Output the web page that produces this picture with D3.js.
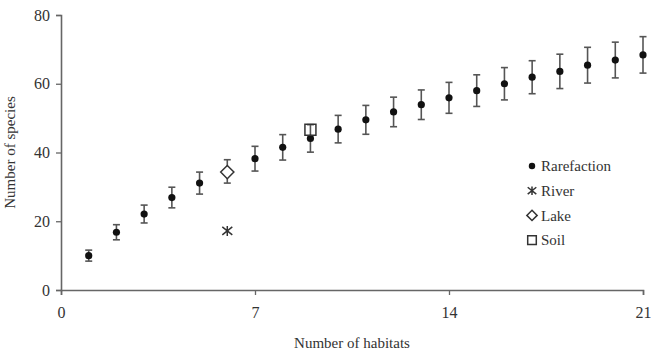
<!DOCTYPE html>
<html>
<head>
    <title>Species rarefaction</title>
    <script src="https://d3js.org/d3.v7.min.js"></script>
    <style>
        body { margin: 0; background: #fff; }
    </style>
</head>
<body>
<script>
    // data
    const habitats = [1, 2, 3, 4, 5, 6, 7, 8, 9, 10, 11, 12, 13, 14, 15, 16, 17, 18, 19, 20, 21];
    const richness = [10.0, 16.8, 22.1, 26.9, 31.1, 34.5, 38.2, 41.5, 44.1, 46.8, 49.5, 51.8, 53.9, 55.9, 58.0, 60.0, 61.9, 63.6, 65.4, 66.9, 68.4];
    const errors = [1.6, 2.2, 2.6, 3.0, 3.2, 3.4, 3.6, 3.7, 4.0, 4.0, 4.2, 4.3, 4.3, 4.5, 4.6, 4.7, 4.8, 5.0, 5.2, 5.2, 5.3];
    const riverPoint = [6, 17.2];
    const lakePoint = [6, 34.3];
    const soilPoint = [9, 46.6];
    const xTicks = [0, 7, 14, 21];
    const yTicks = [0, 20, 40, 60, 80];
    const legendLabels = ["Rarefaction", "River", "Lake", "Soil"];

    const serif = "'Liberation Serif', 'Times New Roman', serif";
    const margin = { top: 15, right: 8, bottom: 65, left: 61 };
    const width = 651 - margin.left - margin.right;
    const height = 355 - margin.top - margin.bottom;

    const svg = d3.select("body").append("svg")
        .attr("width", 651)
        .attr("height", 355)
        .style("font-family", serif);
    const g = svg.append("g")
        .attr("transform", `translate(${margin.left},${margin.top})`);

    const x = d3.scaleLinear().domain([0, 21]).range([0, width]);
    const y = d3.scaleLinear().domain([0, 80]).range([height, 0]);

    // axes
    const xAxis = g.append("g")
        .attr("transform", `translate(0,${height})`)
        .call(d3.axisBottom(x).tickValues(xTicks).tickSize(5).tickPadding(12));
    const yAxis = g.append("g")
        .call(d3.axisLeft(y).tickValues(yTicks).tickSize(5).tickPadding(6));
    [xAxis, yAxis].forEach(a => {
        a.attr("font-family", serif);
        a.select(".domain").attr("stroke", "#666").attr("stroke-width", 1.6);
        a.selectAll(".tick line").attr("stroke", "#666").attr("stroke-width", 1.3);
        a.selectAll(".tick text")
            .style("font-family", serif)
            .style("font-size", "16px")
            .attr("fill", "#333");
    });

    g.append("text")
        .attr("x", width / 2)
        .attr("y", height + 58)
        .attr("text-anchor", "middle")
        .attr("fill", "#333")
        .style("font-family", serif)
        .style("font-size", "15px")
        .text("Number of habitats");
    g.append("text")
        .attr("transform", `translate(${-46},${height / 2}) rotate(-90)`)
        .attr("text-anchor", "middle")
        .attr("fill", "#333")
        .style("font-family", serif)
        .style("font-size", "15px")
        .text("Number of species");

    // error bars
    const bars = g.selectAll(".err")
        .data(habitats)
        .join("g")
        .attr("class", "err")
        .attr("stroke", "#555")
        .attr("stroke-width", 1.6);
    bars.append("line")
        .attr("x1", d => x(d)).attr("x2", d => x(d))
        .attr("y1", (d, i) => y(richness[i] + errors[i]))
        .attr("y2", (d, i) => y(richness[i] - errors[i]));
    bars.append("line")
        .attr("x1", d => x(d) - 3.5).attr("x2", d => x(d) + 3.5)
        .attr("y1", (d, i) => y(richness[i] + errors[i]))
        .attr("y2", (d, i) => y(richness[i] + errors[i]));
    bars.append("line")
        .attr("x1", d => x(d) - 3.5).attr("x2", d => x(d) + 3.5)
        .attr("y1", (d, i) => y(richness[i] - errors[i]))
        .attr("y2", (d, i) => y(richness[i] - errors[i]));

    g.selectAll(".dot")
        .data(habitats)
        .join("circle")
        .attr("class", "dot")
        .attr("cx", d => x(d))
        .attr("cy", (d, i) => y(richness[i]))
        .attr("r", 3.6)
        .attr("fill", "#111");

    // marker shapes
    const starPath = s => `M${-s},${-s * 0.8}L${s},${s * 0.8}M${-s},${s * 0.8}L${s},${-s * 0.8}M0,${-s}L0,${s}`;
    const diamondPath = s => `M0,${-s}L${s},0L0,${s}L${-s},0Z`;
    const squarePath = s => `M${-s},${-s}H${s}V${s}H${-s}Z`;

    function marker(sel, kind, size) {
        if (kind === 0) {
            sel.append("circle").attr("r", size * 0.75).attr("fill", "#111");
        } else if (kind === 1) {
            sel.append("path").attr("d", starPath(size))
                .attr("fill", "none").attr("stroke", "#333").attr("stroke-width", 1.5);
        } else if (kind === 2) {
            sel.append("path").attr("d", diamondPath(size * 1.2))
                .attr("fill", "#fff").attr("stroke", "#333").attr("stroke-width", 1.5);
        } else {
            sel.append("path").attr("d", squarePath(size))
                .attr("fill", "none").attr("stroke", "#333").attr("stroke-width", 1.5);
        }
    }

    marker(g.append("g").attr("transform", `translate(${x(riverPoint[0])},${y(riverPoint[1])})`), 1, 5);
    marker(g.append("g").attr("transform", `translate(${x(lakePoint[0])},${y(lakePoint[1])})`), 2, 5.5);
    marker(g.append("g").attr("transform", `translate(${x(soilPoint[0])},${y(soilPoint[1])})`), 3, 5.5);

    // legend
    const legend = svg.append("g").attr("transform", "translate(532,166)");
    const rows = legend.selectAll(".legend")
        .data(legendLabels)
        .join("g")
        .attr("class", "legend")
        .attr("transform", (d, i) => `translate(0,${i * 24.7})`);
    rows.each(function (d, i) { marker(d3.select(this), i, 4.3); });
    rows.append("text")
        .attr("x", 9)
        .attr("dy", "0.35em")
        .attr("fill", "#333")
        .style("font-family", serif)
        .style("font-size", "15px")
        .text(d => d);
</script>
</body>
</html>
